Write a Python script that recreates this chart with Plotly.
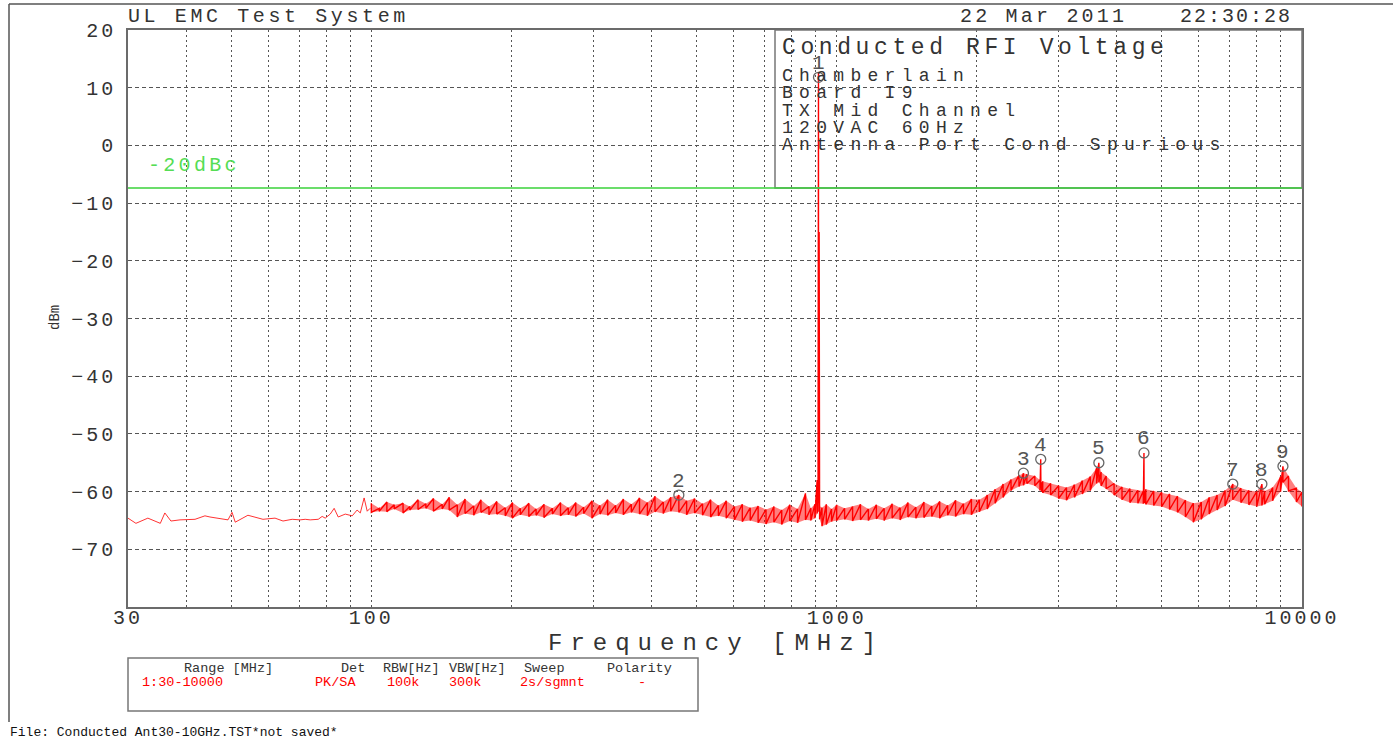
import math
import plotly.graph_objects as go

# ---------------------------------------------------------------- data
# Sparse sweep points below 100 MHz (single trace line)
LOW_MHZ = [30.0, 31.2, 33.1, 35.2, 36.0, 37.1, 38.8, 41.8, 43.9, 45.0, 49.2, 50.2,
           51.0, 54.3, 58.5, 62.1, 64.6, 67.6, 70.3, 72.1, 73.9, 76.9, 78.4, 79.6,
           81.6, 83.2, 84.9, 87.9, 91.0, 93.2, 94.7, 96.5, 98.0, 99.4]
LOW_DBM = [-64.6, -65.5, -64.6, -65.5, -63.7, -65.1, -64.9, -64.8, -64.2, -64.4, -64.9, -63.6,
           -65.3, -64.1, -64.8, -64.6, -65.1, -64.8, -64.9, -64.8, -64.9, -64.8, -64.3, -64.6,
           -63.9, -62.9, -64.4, -63.9, -64.2, -63.2, -63.7, -61.1, -63.4, -62.9]

# Dense sweep 100 MHz - 10 GHz: peak (max) and floor (min) per display column
SWEEP_MHZ = [100, 104, 108, 112, 117, 121, 126, 131, 136, 142, 147, 153, 159, 166, 172, 179,
             186, 194, 201, 209, 218, 226, 235, 245, 255, 265, 275, 286, 298, 310, 322, 335,
             348, 362, 377, 392, 407, 424, 440, 458, 476, 495, 515, 536, 557, 579, 603, 627,
             652, 678, 705, 733, 762, 793, 824, 857, 880, 898, 908, 912, 914, 917, 919, 930,
             950, 975,
             1000, 1040, 1082, 1125, 1170, 1217, 1265, 1316, 1369, 1423, 1480, 1540, 1601,
             1665, 1732, 1801, 1873, 1948, 2026, 2107, 2191, 2279, 2370, 2465, 2520, 2563,
             2666, 2735, 2745, 2755, 2772, 2883, 2999, 3118, 3243, 3373, 3508, 3620, 3660,
             3700, 3794, 3946, 4104, 4268, 4439, 4560, 4575, 4590, 4616, 4801, 4993, 5193,
             5400, 5617, 5841, 6075, 6318, 6571, 6833, 7100, 7391, 7687, 7994, 8200, 8314,
             8647, 8993, 9100, 9353, 9727, 10000]
SWEEP_MAX = [-62.0, -62.9, -61.8, -62.3, -62.0, -62.6, -61.4, -62.1, -61.2, -62.2, -61.0, -62.3,
             -61.3, -62.5, -61.4, -62.6, -61.7, -62.8, -61.9, -62.9, -62.0, -63.0, -62.2, -62.9,
             -61.9, -62.8, -61.9, -62.7, -61.6, -62.4, -61.4, -62.4, -61.3, -62.2, -61.1, -61.9,
             -60.8, -61.8, -61.0, -60.6, -61.6, -61.2, -62.1, -61.4, -62.4, -61.6, -62.6, -62.2,
             -62.8, -62.5, -63.1, -62.6, -63.2, -62.3, -63.0, -60.3, -62.9, -62.2, -58.0, -60.5,
             12.6, -15.0, -62.5, -62.8,
             -62.2, -63.0,
             -62.3, -62.9, -62.6, -62.2, -63.0, -62.3, -62.9, -62.1, -62.8, -61.9, -62.7, -61.8,
             -62.5, -61.7, -62.4, -61.5, -62.1, -61.3, -61.4, -60.6, -59.6, -58.7, -57.9, -57.2,
             -56.8, -57.0, -57.3, -58.0, -54.4, -58.4, -58.2, -58.6, -59.0, -59.3, -58.8, -58.1,
             -57.4, -55.9, -55.0, -56.6, -57.3, -58.6, -59.2, -59.5, -59.8, -59.9, -53.3, -60.0,
             -59.6, -59.9, -60.1, -60.4, -60.8, -61.5, -62.0, -61.8, -61.0, -60.6, -59.8, -58.7,
             -59.4, -59.8, -60.0, -58.7, -59.9, -59.3, -57.4, -55.6, -57.3, -59.4, -60.1]
SWEEP_MIN = [-63.6, -63.4, -63.5, -63.0, -63.7, -63.2, -63.1, -62.9, -63.4, -63.0, -63.2, -64.4,
             -63.8, -64.1, -63.6, -64.0, -63.9, -64.2, -64.6, -64.0, -64.3, -64.1, -64.5, -63.9,
             -64.2, -64.0, -64.3, -63.8, -64.6, -63.9, -64.1, -63.7, -64.0, -63.6, -63.9, -64.2,
             -63.5, -63.8, -63.4, -63.6, -64.0, -63.7, -64.1, -64.4, -64.2, -64.6, -64.9, -65.2,
             -65.0, -65.4, -65.6, -65.3, -65.7, -65.1, -65.4, -64.9, -65.0, -64.6, -63.8, -63.5,
             -62.0, -64.0, -64.8, -66.0,
             -65.7, -65.2,
             -65.0, -64.8, -65.1, -64.9, -65.0, -64.7, -65.0, -64.6, -64.9, -64.4, -64.6, -64.5,
             -64.3, -64.6, -64.1, -64.3, -63.9, -64.0, -63.5, -63.0, -62.0, -61.0, -59.8, -59.1,
             -58.9, -58.6, -59.0, -59.8, -59.3, -60.0, -60.2, -60.6, -61.2, -61.5, -61.0, -60.4,
             -59.8, -58.6, -58.4, -59.0, -59.5, -60.6, -61.4, -61.9, -62.0, -62.1, -61.8, -62.0,
             -62.2, -62.4, -62.6, -63.1, -63.6, -64.4, -65.3, -64.8, -63.9, -63.2, -62.5, -61.4,
             -61.9, -62.3, -62.6, -62.4, -62.2, -61.6, -60.0, -58.4, -59.9, -61.8, -62.6]

# Peak markers
MARKER_NO = ["1", "2", "3", "4", "5", "6", "7", "8", "9"]
MARKER_MHZ = [914, 458, 2520, 2745, 3660, 4575, 7100, 8200, 9100]
MARKER_DBM = [11.8, -60.6, -56.8, -54.4, -55.0, -53.3, -58.7, -58.7, -55.6]

# Limit relative to the carrier peak
LIMIT_REL_DB = -20
LIMIT_LABEL = "-20dBc"

# Axis ticks
Y_TICKS = [20, 10, 0, -10, -20, -30, -40, -50, -60, -70]
X_GRID = [30, 40, 50, 60, 70, 80, 90, 100, 200, 300, 400, 500, 600, 700, 800, 900,
          1000, 2000, 3000, 4000, 5000, 6000, 7000, 8000, 9000, 10000]
X_LABELED = {30: "30", 100: "100", 1000: "1000", 10000: "10000"}

# Header / info texts
HEADER_LEFT = "UL EMC Test System"
HEADER_DATE = "22 Mar 2011"
HEADER_TIME = "22:30:28"
INFO_LINES = ["Conducted RFI Voltage", "Chamberlain", "Board I9", "TX Mid Channel",
              "120VAC 60Hz", "Antenna Port Cond Spurious"]
TABLE_HEAD = ["Range [MHz]", "Det", "RBW[Hz]", "VBW[Hz]", "Sweep", "Polarity"]
TABLE_ROW = ["1:30-10000", "PK/SA", "100k", "300k", "2s/sgmnt", "-"]
FILE_LINE = "File: Conducted Ant30-10GHz.TST*not saved*"

# ---------------------------------------------------------------- layout helpers
W, H = 1393, 740
PL, PR, PT, PB = 128, 1302, 30, 607          # plot area in pixels
FONT = "Liberation Mono"
INK = "#333333"
RED = "#ff0000"
GREEN = "#3ad23a"
GRID = "#555555"


def px(x):
    return (x - PL) / (PR - PL)


def py(y):
    return (PB - y) / (PB - PT)


def spaced(s, gap):
    """Plotter-style wide lettering."""
    return f'<span style="letter-spacing:{gap}px">{s}</span>'


fig = go.Figure()

# low band trace
fig.add_trace(go.Scatter(x=LOW_MHZ, y=LOW_DBM, mode="lines",
                         line=dict(color="rgba(255,0,0,0.8)", width=1),
                         hoverinfo="skip", showlegend=False))

# dense band: filled between floor and peak ...
fig.add_trace(go.Scatter(x=SWEEP_MHZ + SWEEP_MHZ[::-1], y=SWEEP_MAX + SWEEP_MIN[::-1],
                         mode="lines", fill="toself", fillcolor="rgba(255,0,0,0.5)",
                         line=dict(width=0), hoverinfo="skip", showlegend=False))
# ... with each column drawn from its peak down to its floor
zx, zy = [], []
for f, hi, lo in zip(SWEEP_MHZ, SWEEP_MAX, SWEEP_MIN):
    zx += [f, f]
    zy += [hi, lo]
fig.add_trace(go.Scatter(x=zx, y=zy, mode="lines",
                         line=dict(color=RED, width=1.4),
                         hoverinfo="skip", showlegend=False))

# marker symbols
fig.add_trace(go.Scatter(x=MARKER_MHZ, y=MARKER_DBM, mode="markers",
                         marker=dict(symbol="circle-open", size=10,
                                     color="#666666", line=dict(width=1.3, color="#666666")),
                         hoverinfo="skip", showlegend=False))

limit_dbm = max(SWEEP_MAX) + LIMIT_REL_DB

shapes = [
    # info box
    dict(type="rect", xref="paper", yref="y", x0=px(775), x1=1, y0=limit_dbm, y1=20,
         line=dict(color="#777777", width=1.5), layer="above"),
    # limit line
    dict(type="line", xref="paper", yref="y", x0=0, x1=1, y0=limit_dbm, y1=limit_dbm,
         line=dict(color=GREEN, width=1.5), layer="above"),
    # settings table frame
    dict(type="rect", xref="paper", yref="paper", x0=px(128), x1=px(698),
         y0=py(711), y1=py(658), line=dict(color="#777777", width=1.5)),
    # outer page frame
    dict(type="line", xref="paper", yref="paper", x0=px(9), x1=px(9),
         y0=py(722), y1=py(4), line=dict(color="#555555", width=1.5)),
    dict(type="line", xref="paper", yref="paper", x0=px(9), x1=px(1393),
         y0=py(4), y1=py(4), line=dict(color="#555555", width=1.5)),
]

ann = []

# marker numbers just above their symbols
for no, f, v in zip(MARKER_NO, MARKER_MHZ, MARKER_DBM):
    ann.append(dict(text=no, xref="x", yref="y", x=math.log10(f), y=v, yshift=14,
                    xanchor="center", yanchor="middle", showarrow=False,
                    font=dict(family=FONT, size=21, color="#555555")))


def text(s, x, y, size, color=INK, xanchor="left", angle=0, gap=0):
    ann.append(dict(text=spaced(s, gap) if gap else s, xref="paper", yref="paper",
                    x=px(x), y=py(y), xanchor=xanchor, yanchor="middle", showarrow=False,
                    textangle=angle, font=dict(family=FONT, size=size, color=color)))


text(HEADER_LEFT, 126, 17, 20, gap=3.6)
text(HEADER_DATE, 958, 17, 20, gap=3.2)
text(HEADER_TIME, 1178, 17, 20, gap=2)
text(LIMIT_LABEL, 146, 165, 20, color="#55dd55", gap=3.3)

info_y = [48, 76, 93, 111, 128, 145]
for i, (s, yy) in enumerate(zip(INFO_LINES, info_y)):
    if i == 0:
        text(s, 780, yy, 23, gap=4.6)
    else:
        text(s, 780, yy, 18, gap=6.3)

text("dBm", 55, 318, 14, angle=-90, xanchor="center")
text("Frequency [MHz]", 716, 643, 24, xanchor="center", gap=8)

head_x = [182, 339, 381, 447, 522, 605]
row_x = [140, 313, 385, 447, 518, 636]
for s, xx in zip(TABLE_HEAD, head_x):
    text(s, xx, 668, 13.5)
for s, xx in zip(TABLE_ROW, row_x):
    text(s, xx, 682, 13.5, color=RED)
text(FILE_LINE, 8, 732, 13, color="#111111")

fig.update_layout(
    width=W, height=H, autosize=False,
    margin=dict(l=PL, r=W - PR, t=PT, b=H - PB, pad=0),
    paper_bgcolor="white", plot_bgcolor="white",
    showlegend=False, shapes=shapes, annotations=ann,
    font=dict(family=FONT, color=INK),
)
fig.update_xaxes(
    type="log", range=[1.4771212547, 4.0],
    tickvals=X_GRID,
    ticktext=[spaced(X_LABELED[v], 3) if v in X_LABELED else "" for v in X_GRID],
    tickfont=dict(family=FONT, size=20, color=INK), ticks="", ticklabelstandoff=-9,
    showgrid=True, gridcolor=GRID, gridwidth=1, griddash="2px,3px",
    showline=True, linecolor="#6b6b6b", linewidth=1.5, mirror=True, zeroline=False,
)
fig.update_yaxes(
    range=[-80, 20], tickvals=Y_TICKS,
    ticktext=[spaced(str(v).replace("-", "\u2212"), 3) for v in Y_TICKS],
    tickfont=dict(family=FONT, size=20, color=INK), ticks="", ticklabelstandoff=6,
    showgrid=True, gridcolor=GRID, gridwidth=1, griddash="4px,3px",
    showline=True, linecolor="#6b6b6b", linewidth=1.5, mirror=True, zeroline=False,
)

fig.write_html("out.html", config={"displayModeBar": False})
